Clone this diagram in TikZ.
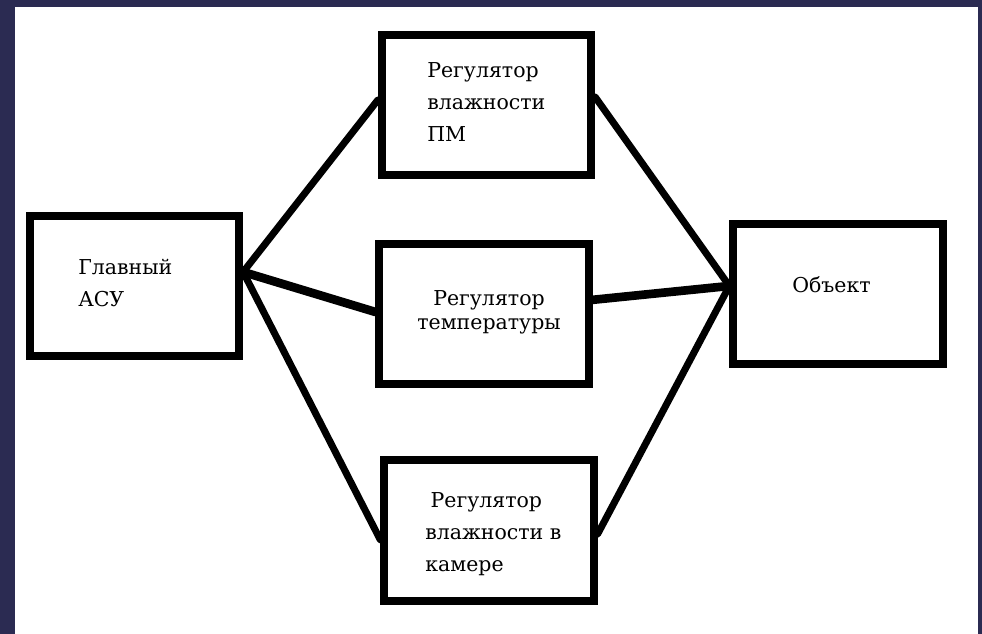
\documentclass[tikz,border=0pt]{standalone}
\usepackage{fontspec}
\setmainfont{DejaVu Serif}
\newfontfamily\tims{DejaVu Serif}[Scale=0.82]

\definecolor{fon}{RGB}{43,43,82}

\begin{document}
\begin{tikzpicture}[x=0.75pt, y=-0.75pt,
	blok/.style={draw, line width=6pt, minimum width=157pt, minimum height=105pt, inner sep=0pt},
	tekst/.style={align=left, inner sep=0pt, font=\tims\fontsize{18.75}{24}\selectfont},
	svyaz/.style={line width=5.25pt, line cap=round},
	svyaztolst/.style={line width=6.5pt, line cap=round}]
	\fill [fon] (0,0) rectangle (982,634);
	\fill [white] (15,7) rectangle (978,634);

	\node [blok] (glav) at (134.5,286) {};
	\node [blok] (vlPM) at (486.5,105) {};
	\node [blok] (temp) at (484,314.5) {};
	\node [blok] (vlKam) at (489,530.5) {};
	\node [blok] (obj) at (838,294.5) {};

	\node [tekst, anchor=base west] (glavT) at (78,307) {Главный\\АСУ};
	\node [tekst, anchor=base west] (vlPMT) at (427,142) {Регулятор\\влажности\\ПМ};
	\node [tekst, align=center, anchor=base, font=\tims\fontsize{18.75}{18}\selectfont] (tempT) at (489,330) {Регулятор\\температуры};
	\node [tekst, anchor=base west] (vlKamT) at (425,571) {\hspace*{4pt}Регулятор\\влажности в\\камере};
	\node [tekst, anchor=base west] (objT) at (792,293) {Объект};

	\coordinate (vyh) at ([yshift=10.5pt]glav.east);
	\coordinate (vh) at ([yshift=6.4pt]obj.west);
	\draw [svyaz] (vyh) -- ([yshift=3.75pt]vlPM.west);
	\draw [svyaztolst] (vyh) -- ([yshift=1.9pt]temp.west);
	\draw [svyaz] (vyh) -- ([yshift=-7pt]vlKam.west);
	\draw [svyaz] ([yshift=6pt]vlPM.east) -- (vh);
	\draw [svyaztolst] ([yshift=11pt]temp.east) -- (vh);
	\draw [svyaz] ([yshift=-2.6pt]vlKam.east) -- (vh);
\end{tikzpicture}
\end{document}
